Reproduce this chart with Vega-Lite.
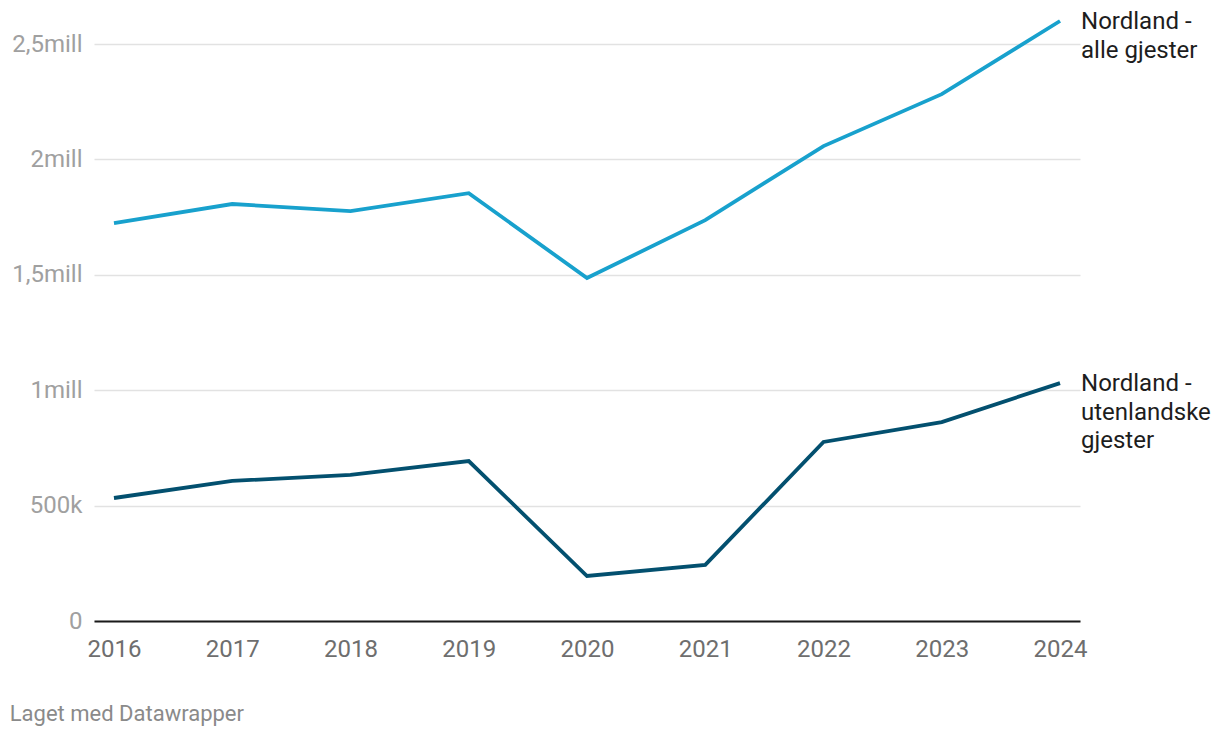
{
  "$schema": "https://vega.github.io/schema/vega-lite/v6.json",
  "width": 986,
  "height": 600,
  "autosize": "none",
  "padding": {"left": 94, "top": 21, "right": 140, "bottom": 117},
  "background": "white",
  "config": {
    "font": "Roboto",
    "view": {"stroke": null}
  },
  "title": {
    "text": "Laget med Datawrapper",
    "orient": "bottom",
    "anchor": "start",
    "frame": "bounds",
    "fontSize": 22,
    "fontWeight": "normal",
    "color": "#8a8a8a",
    "offset": 43,
    "dx": -2
  },
  "data": {
    "values": [
      {"year": 2016, "series": "Nordland -\nalle gjester", "value": 1724000},
      {"year": 2017, "series": "Nordland -\nalle gjester", "value": 1807000},
      {"year": 2018, "series": "Nordland -\nalle gjester", "value": 1776000},
      {"year": 2019, "series": "Nordland -\nalle gjester", "value": 1854000},
      {"year": 2020, "series": "Nordland -\nalle gjester", "value": 1486000},
      {"year": 2021, "series": "Nordland -\nalle gjester", "value": 1737000},
      {"year": 2022, "series": "Nordland -\nalle gjester", "value": 2058000},
      {"year": 2023, "series": "Nordland -\nalle gjester", "value": 2283000},
      {"year": 2024, "series": "Nordland -\nalle gjester", "value": 2600000},
      {"year": 2016, "series": "Nordland -\nutenlandske\ngjester", "value": 533000},
      {"year": 2017, "series": "Nordland -\nutenlandske\ngjester", "value": 607000},
      {"year": 2018, "series": "Nordland -\nutenlandske\ngjester", "value": 633000},
      {"year": 2019, "series": "Nordland -\nutenlandske\ngjester", "value": 693000},
      {"year": 2020, "series": "Nordland -\nutenlandske\ngjester", "value": 195000},
      {"year": 2021, "series": "Nordland -\nutenlandske\ngjester", "value": 243000},
      {"year": 2022, "series": "Nordland -\nutenlandske\ngjester", "value": 776000},
      {"year": 2023, "series": "Nordland -\nutenlandske\ngjester", "value": 862000},
      {"year": 2024, "series": "Nordland -\nutenlandske\ngjester", "value": 1031000}
    ]
  },
  "encoding": {
    "x": {
      "field": "year",
      "type": "quantitative",
      "scale": {"domain": [2015.831, 2024.169], "nice": false, "zero": false},
      "axis": {
        "title": null,
        "values": [2016, 2017, 2018, 2019, 2020, 2021, 2022, 2023, 2024],
        "format": "d",
        "grid": false,
        "ticks": false,
        "domain": true,
        "domainColor": "#1a1a1a",
        "domainWidth": 2,
        "labelFontSize": 24,
        "labelColor": "#6e6e6e",
        "labelPadding": 16,
        "labelFlush": false
      }
    },
    "y": {
      "field": "value",
      "type": "quantitative",
      "scale": {"domain": [0, 2600000], "nice": false},
      "axis": {
        "title": null,
        "values": [0, 500000, 1000000, 1500000, 2000000, 2500000],
        "labelExpr": "datum.value == 0 ? '0' : datum.value == 500000 ? '500k' : datum.value == 1000000 ? '1mill' : datum.value == 1500000 ? '1,5mill' : datum.value == 2000000 ? '2mill' : '2,5mill'",
        "grid": true,
        "gridColor": "#e2e2e2",
        "gridWidth": 1.5,
        "ticks": false,
        "domain": false,
        "labelFontSize": 24,
        "labelColor": "#a0a0a0",
        "labelPadding": 12,
        "labelBaseline": "middle"
      }
    },
    "color": {
      "field": "series",
      "type": "nominal",
      "scale": {
        "domain": ["Nordland -\nalle gjester", "Nordland -\nutenlandske\ngjester"],
        "range": ["#18a1cd", "#03506f"]
      },
      "legend": null
    }
  },
  "layer": [
    {
      "mark": {"type": "line", "strokeWidth": 3.8, "strokeJoin": "miter", "clip": false}
    },
    {
      "transform": [{"filter": "datum.year == 2024"}],
      "mark": {
        "type": "text",
        "align": "left",
        "baseline": "alphabetic",
        "dx": 21,
        "dy": 8,
        "fontSize": 24,
        "lineHeight": 28.5,
        "lineBreak": "\n",
        "color": "#1d1d1d"
      },
      "encoding": {
        "text": {"field": "series"},
        "color": {"value": "#1d1d1d"}
      }
    }
  ]
}
